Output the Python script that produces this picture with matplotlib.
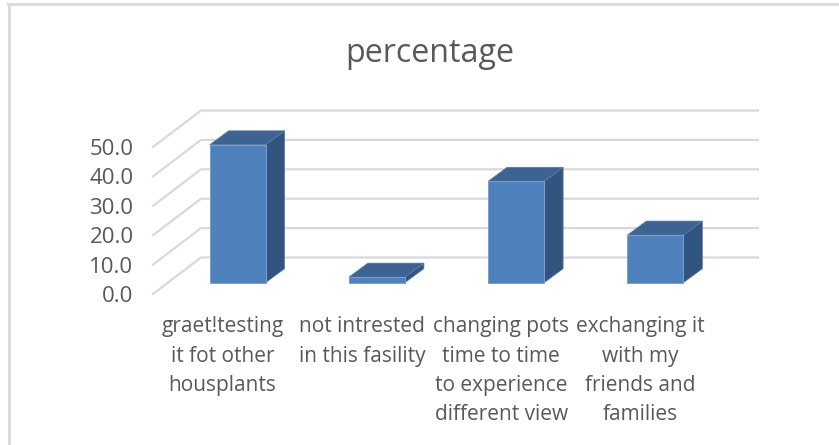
import matplotlib
matplotlib.use('Agg')
import matplotlib.pyplot as plt
from matplotlib.patches import Polygon
from matplotlib.lines import Line2D

categories = ['graet!testing\nit fot other\nhousplants',
              'not intrested\nin this fasility',
              'changing pots\ntime to time\nto experience\ndifferent view',
              'exchanging it\nwith my\nfriends and\nfamilies']
values = [46.9, 1.9, 34.5, 16.2]
y_ticks = [0, 10, 20, 30, 40, 50]

W, H = 839, 445
plt.rcParams['font.family'] = ['Open Sans', 'DejaVu Sans']
TEXT = '#595959'
GRID = '#d9d9d9'

fig = plt.figure(figsize=(W / 100, H / 100), dpi=100)
fig.patch.set_facecolor('white')

# the axes box is the front plane of the fake 3d floor/wall
left, right, top, bottom = 153, 710, 147, 294
ax = fig.add_axes([left / W, 1 - bottom / H, (right - left) / W, (bottom - top) / H])
ax.set_xlim(0, len(categories))
ax.set_ylim(0, 50)
ax.patch.set_visible(False)
for s in ax.spines.values():
    s.set_visible(False)

# depth of the wall and of one bar, in data units
px_x = len(categories) / (right - left)
px_y = 50 / (bottom - top)
depth_x, depth_y = 48 * px_x, 36.5 * px_y
bar_dx, bar_dy = 19 * px_x, 14 * px_y
base_dx, base_dy = 15 * px_x, 11.3 * px_y
bar_w = 56 * px_x

for t in y_ticks:
    ax.plot([0, depth_x, len(categories) + depth_x], [t, t + depth_y, t + depth_y],
            color=GRID, lw=1.6, clip_on=False, zorder=1, solid_joinstyle='miter')

for i, v in enumerate(values):
    x0 = i + 0.5 + base_dx - bar_w / 2
    x1 = x0 + bar_w
    y0, y1 = base_dy, base_dy + v
    ax.add_patch(Polygon([(x1, y0), (x1 + bar_dx, y0 + bar_dy), (x1 + bar_dx, y1 + bar_dy), (x1, y1)],
                         fc='#325480', ec='#5a7da8', lw=0.5, clip_on=False, zorder=3))
    ax.add_patch(Polygon([(x0, y1), (x1, y1), (x1 + bar_dx, y1 + bar_dy), (x0 + bar_dx, y1 + bar_dy)],
                         fc='#3c6391', ec='#5a7da8', lw=0.5, clip_on=False, zorder=3))
    ax.add_patch(Polygon([(x0, y0), (x1, y0), (x1, y1), (x0, y1)],
                         fc='#4f81bd', ec='#7ba0cc', lw=0.7, clip_on=False, zorder=4))

ax.set_yticks(y_ticks)
ax.set_yticklabels(['%.1f' % t for t in y_ticks], fontsize=16, color=TEXT)
ax.set_xticks([i + 0.5 for i in range(len(categories))])
ax.set_xticklabels(categories, fontsize=15, color=TEXT, linespacing=1.52)
ax.tick_params(axis='both', length=0)
ax.tick_params(axis='y', pad=14)
ax.tick_params(axis='x', pad=16)

fig.text(430 / W, 1 - 53 / H, 'percentage', ha='center', va='center', fontsize=23.2, color=TEXT)

# chart frame, only the top and left edges are in view
fig.add_artist(Line2D([9 / W, 9 / W], [0, 1 - 4 / H], color='#d9d9d9', lw=2))
fig.add_artist(Line2D([8 / W, 1], [1 - 4 / H, 1 - 4 / H], color='#d9d9d9', lw=2))

fig.savefig('out.png', dpi=100)
